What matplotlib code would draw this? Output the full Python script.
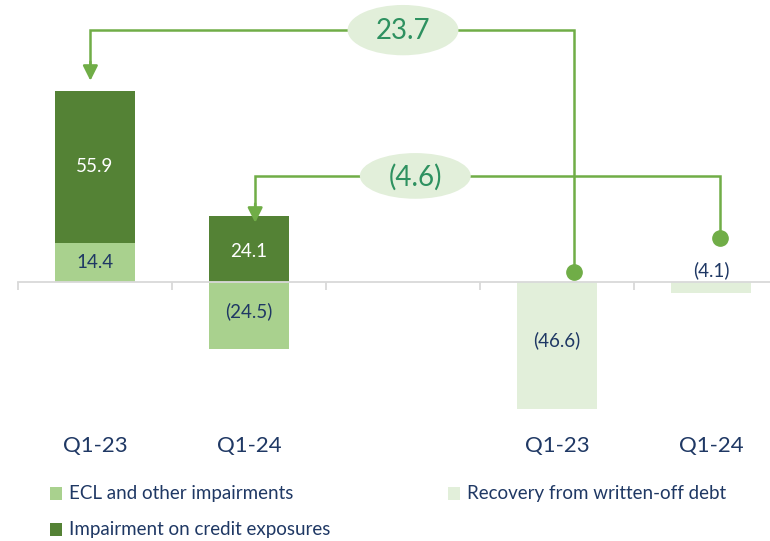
import matplotlib
matplotlib.use("Agg")
import matplotlib.pyplot as plt
from matplotlib.patches import Ellipse, Rectangle

plt.rcParams['font.family'] = ['Lato', 'DejaVu Sans']

# ---- data ----
categories = ["Q1-23", "Q1-24", "", "Q1-23", "Q1-24"]
ecl = [14.4, -24.5, 0, 0, 0]
impairment = [55.9, 24.1, 0, 0, 0]
recovery = [0, 0, 0, -46.6, -4.1]
ecl_labels = ["14.4", "(24.5)", "", "", ""]
imp_labels = ["55.9", "24.1", "", "", ""]
rec_labels = ["", "", "", "(46.6)", "(4.1)"]
change_labels = ["23.7", "(4.6)"]
legend_labels = ["ECL and other impairments", "Impairment on credit exposures",
                 "Recovery from written-off debt"]

# ---- colours ----
C_DARK = "#548235"
C_MID = "#a9d18e"
C_LIGHT = "#e2efda"
C_LINE = "#70ad47"
C_NAVY = "#1f3864"
C_ELL_TXT = "#2e9160"

W, H = 770, 541
fig = plt.figure(figsize=(W / 100, H / 100), dpi=100)

ymin, ymax = -60, 103
px_per_unit = 2.72
zero_px = 282  # from top
bottom_px = zero_px + (-ymin) * px_per_unit
height_px = (ymax - ymin) * px_per_unit
ax = fig.add_axes([18 / W, (H - bottom_px) / H, 770 / W, height_px / H])
ax.set_xlim(-0.5, 4.5)
ax.set_ylim(ymin, ymax)

x = list(range(len(categories)))
bw = 0.52
ax.bar(x, ecl, width=bw, color=C_MID, zorder=1)
imp_bottom = [e if (e > 0 and i > 0) else 0 for e, i in zip(ecl, impairment)]
ax.bar(x, impairment, width=bw, bottom=imp_bottom, color=C_DARK, zorder=1)
ax.bar(x, recovery, width=bw, color=C_LIGHT, zorder=1)

VFS = 13.5
for xi, v, t in zip(x, ecl, ecl_labels):
    if t:
        ax.text(xi, v / 2 + (0 if v > 0 else 1.5), t, ha='center', va='center',
                color=C_NAVY, fontsize=VFS)
for xi, v, b, t in zip(x, impairment, imp_bottom, imp_labels):
    if t:
        ax.text(xi, b + v / 2 + (0 if b > 0 else -1), t, ha='center', va='center',
                color='white', fontsize=VFS)
for xi, v, t in zip(x, recovery, rec_labels):
    if t:
        if abs(v) > 10:
            ax.text(xi, v / 2 + 2, t, ha='center', va='center', color=C_NAVY, fontsize=VFS)
        else:
            ax.text(xi, 4.5, t, ha='center', va='center', color=C_NAVY, fontsize=VFS)

for s in ['top', 'right', 'left']:
    ax.spines[s].set_visible(False)
ax.spines['bottom'].set_position(('data', 0))
ax.spines['bottom'].set_color('#d9d9d9')
ax.spines['bottom'].set_linewidth(1.3)
ax.set_yticks([])
ax.set_xticks([0, 1, 3, 4])
ax.set_xticklabels([categories[i] for i in [0, 1, 3, 4]], fontsize=16, color=C_NAVY)
ax.tick_params(axis='x', which='major', length=0, pad=111)
ax.set_xticks([-0.5, 0.5, 1.5, 2.5, 3.5, 4.5], minor=True)
ax.tick_params(axis='x', which='minor', length=6, color='#d9d9d9', width=1.3)

lw = 1.8
arrow_style = '-|>,head_length=0.9,head_width=0.45'
# 23.7
c1_start = (3.11, 3.7)
c1_level = 92.6
c1_end_x = -0.03
c1_tip = 74.0
ax.plot([c1_start[0], c1_start[0], c1_end_x, c1_end_x],
        [c1_start[1], c1_level, c1_level, c1_tip + 5], color=C_LINE, lw=lw, zorder=3,
        solid_joinstyle='miter')
ax.annotate("", xy=(c1_end_x, c1_tip), xytext=(c1_end_x, c1_tip + 7),
            arrowprops=dict(arrowstyle=arrow_style, color=C_LINE, lw=lw,
                            shrinkA=0, shrinkB=0), zorder=3)
ax.plot([c1_start[0]], [c1_start[1]], 'o', color=C_LINE, ms=11, zorder=4)

# (4.6)
c2_start = (4.06, 16.2)
c2_level = 38.8
c2_end_x = 1.04
c2_tip = 21.8
ax.plot([c2_start[0], c2_start[0], c2_end_x, c2_end_x],
        [c2_start[1], c2_level, c2_level, c2_tip + 5], color=C_LINE, lw=lw, zorder=3,
        solid_joinstyle='miter')
ax.annotate("", xy=(c2_end_x, c2_tip), xytext=(c2_end_x, c2_tip + 7),
            arrowprops=dict(arrowstyle=arrow_style, color=C_LINE, lw=lw,
                            shrinkA=0, shrinkB=0), zorder=3)
ax.plot([c2_start[0]], [c2_start[1]], 'o', color=C_LINE, ms=11, zorder=4)

for (cx, cy, ew, eh), t in zip([(2.0, 92.6, 0.72, 18.5), (2.08, 39.0, 0.72, 16.8)],
                               change_labels):
    ax.add_patch(Ellipse((cx, cy), ew, eh, facecolor=C_LIGHT, edgecolor='none', zorder=5))
    ax.text(cx, cy - 0.5, t, ha='center', va='center', fontsize=20, color=C_ELL_TXT, zorder=6)

leg_items = [(50, 493, C_MID, legend_labels[0]),
             (50, 529, C_DARK, legend_labels[1]),
             (448, 493, C_LIGHT, legend_labels[2])]
for lx, ly, col, lab in leg_items:
    fig.patches.append(Rectangle((lx / W, (H - ly - 6.5) / H), 12 / W, 13 / H,
                                 transform=fig.transFigure, facecolor=col,
                                 edgecolor='none'))
    fig.text((lx + 19) / W, (H - ly) / H, lab, ha='left', va='center',
             fontsize=13.5, color=C_NAVY)

fig.savefig("out.png", dpi=100)
